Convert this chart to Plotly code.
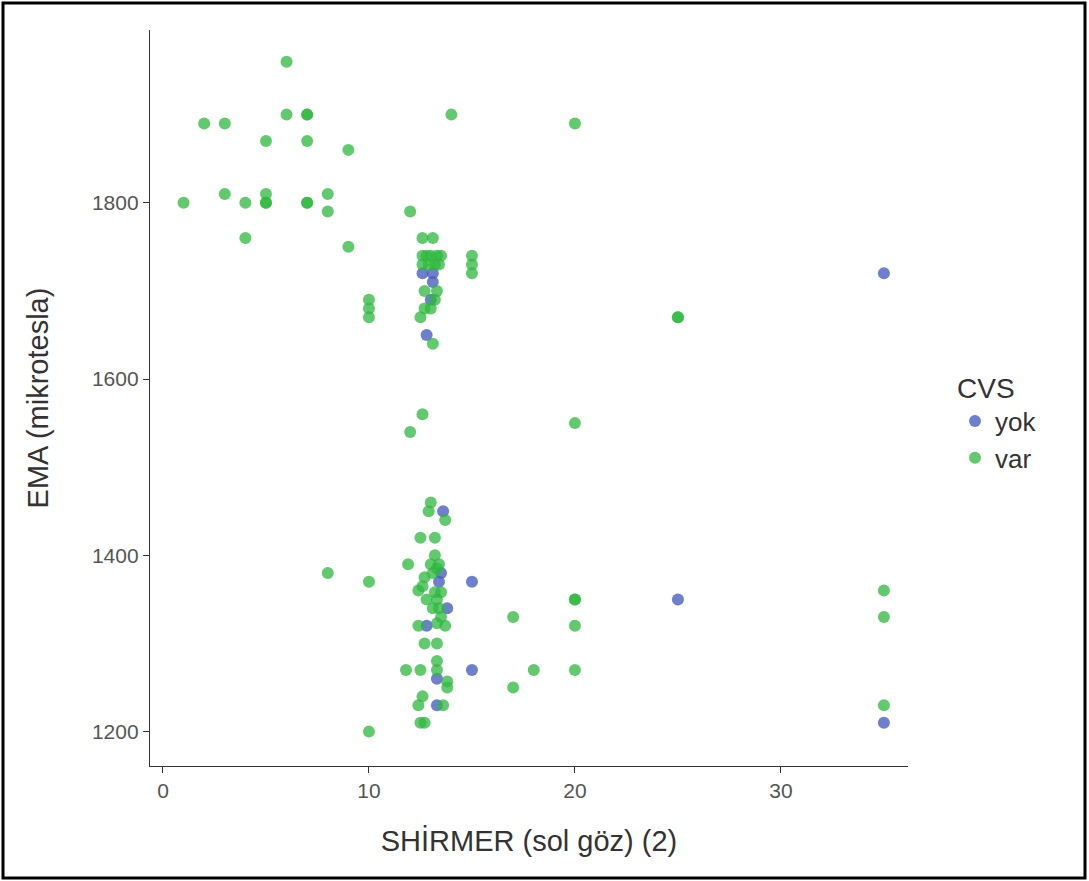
import plotly.graph_objects as go

# CVS = "yok"
x_yok = [13.6, 13.5, 13.4, 15, 13.8, 12.8, 15, 13.3, 13.3, 25, 35, 35,
         12.6, 13.1, 13.1, 13.0, 12.8]
y_yok = [1450, 1380, 1370, 1370, 1340, 1320, 1270, 1260, 1230, 1350, 1210, 1720,
         1720, 1720, 1710, 1690, 1650]

# CVS = "var"
x_var = [1, 2, 3, 3, 4, 4, 5, 5, 5, 5, 6, 6, 7, 7, 7, 7, 7, 8, 8, 9, 9, 12,
         10, 10, 10, 14, 20, 15, 15, 15, 25, 25, 12, 12.6, 20,
         12.6, 13.1, 12.6, 12.8, 13.0, 13.3, 13.5, 12.6, 12.9, 13.2, 13.4,
         12.7, 13.3, 13.2, 12.7, 13.0, 12.5, 13.1,
         13.0, 12.9, 13.7, 12.5, 13.2, 11.9, 13.2, 13.0, 13.4, 13.3, 12.7, 13.1,
         12.4, 12.6, 13.2, 13.5, 12.8, 13.3, 13.1, 13.4, 13.5, 13.3, 13.7, 12.4,
         12.7, 13.3, 13.3, 11.8, 12.5, 13.3, 13.8, 13.8, 12.6, 12.4, 13.6, 12.5, 12.7,
         8, 10, 10, 17, 17, 18, 20, 20, 20, 20, 35, 35, 35]
y_var = [1800, 1890, 1890, 1810, 1800, 1760, 1870, 1810, 1800, 1800, 1960, 1900,
         1900, 1900, 1870, 1800, 1800, 1810, 1790, 1860, 1750, 1790,
         1690, 1680, 1670, 1900, 1890, 1740, 1730, 1720, 1670, 1670, 1540, 1560, 1550,
         1760, 1760, 1740, 1740, 1740, 1740, 1740, 1730, 1730, 1730, 1730,
         1700, 1700, 1690, 1680, 1680, 1670, 1640,
         1460, 1450, 1440, 1420, 1420, 1390, 1400, 1390, 1390, 1385, 1375, 1380,
         1360, 1365, 1358, 1358, 1350, 1350, 1340, 1340, 1330, 1323, 1320, 1320,
         1300, 1300, 1280, 1270, 1270, 1270, 1257, 1250, 1240, 1230, 1230, 1210, 1210,
         1380, 1370, 1200, 1330, 1250, 1270, 1350, 1350, 1320, 1270, 1360, 1330, 1230]

x_ticks = [0, 10, 20, 30]
y_ticks = [1200, 1400, 1600, 1800]

fig = go.Figure()
fig.add_trace(go.Scatter(x=x_yok, y=y_yok, mode="markers", name="yok",
                         marker=dict(color="#4a5fbf", size=12, opacity=0.8)))
fig.add_trace(go.Scatter(x=x_var, y=y_var, mode="markers", name="var",
                         marker=dict(color="#2fb73f", size=12, opacity=0.75)))

FAM = "Liberation Sans, Arial, sans-serif"
axis_font = dict(family=FAM, size=21, color="#555555")
title_font = dict(family=FAM, size=29, color="#333333")

fig.update_layout(
    width=1089, height=881,
    margin=dict(l=150, r=181, t=30, b=115),
    paper_bgcolor="white", plot_bgcolor="white",
    showlegend=True,
    legend=dict(
        title=dict(text="CVS", font=dict(family=FAM, size=28, color="#333333")),
        font=dict(family=FAM, size=26, color="#333333"),
        x=1.062, xanchor="left", y=0.55, yanchor="top",
        bgcolor="rgba(0,0,0,0)", itemsizing="constant", tracegroupgap=0,
    ),
    xaxis=dict(
        range=[-0.63, 36.17], tickvals=x_ticks, ticks="outside", ticklen=6,
        tickcolor="#333333", showline=True, linecolor="#333333", linewidth=1.3,
        showgrid=False, zeroline=False, tickfont=axis_font,
        title=dict(text="SHİRMER (sol göz) (2)", font=title_font, standoff=29),
    ),
    yaxis=dict(
        range=[1161, 1996], tickvals=y_ticks, ticks="outside", ticklen=6,
        tickcolor="#333333", showline=True, linecolor="#333333", linewidth=1.3,
        showgrid=False, zeroline=False, tickfont=axis_font,
        title=dict(text="EMA (mikrotesla)", font=title_font, standoff=34),
    ),
    shapes=[dict(type="rect", xref="paper", yref="paper",
                 x0=(3 - 150) / 758, x1=(1085 - 150) / 758,
                 y0=1 - (878 - 30) / 736, y1=1 - (3 - 30) / 736,
                 line=dict(color="black", width=3), fillcolor="rgba(0,0,0,0)")],
)

fig.write_html("out.html", config={"displayModeBar": False},
               post_script="document.body.style.margin='0';document.body.style.overflow='hidden';")
